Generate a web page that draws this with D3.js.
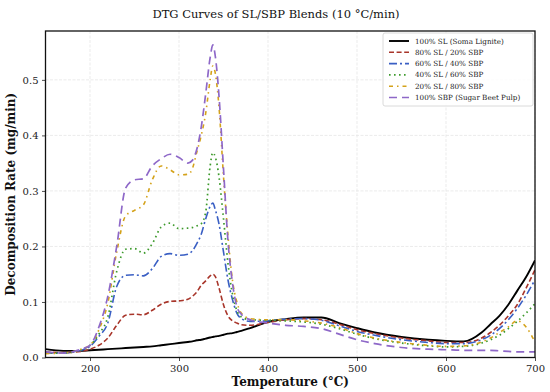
<!DOCTYPE html>
<html>
<head>
<meta charset="utf-8">
<script src="https://cdn.jsdelivr.net/npm/d3@7"></script>
<style>
    body { margin: 0; background: #fff; }
    svg { display: block; font-family: "DejaVu Serif", serif; }
</style>
</head>
<body>
<div id="chart"></div>
<script>
(function () {

    'use strict';

    // temperatures (°C) shared by every curve
    var temps = [150, 170, 190, 200, 210, 220, 230, 240, 250, 260, 270, 280, 290, 300, 310, 315, 320, 325, 330, 335, 338, 341, 345, 350, 355, 360, 365, 370, 380, 400, 420, 440, 460, 480, 500, 520, 550, 580, 600, 620, 640, 650, 660, 670, 680, 690, 700];

    var sl100 = [.015, .012, .012, .013, .014, .015, .016, .017, .018, .019, .020, .022, .024, .026, .028, .029, .031, .032, .034, .036, .037, .038, .039, .041, .043, .044, .046, .048, .053, .064, .069, .072, .072, .062, .053, .045, .037, .032, .030, .029, .045, .060, .075, .095, .120, .145, .175];
    var sl80 = [.010, .009, .011, .015, .022, .035, .058, .076, .078, .077, .085, .096, .101, .102, .105, .110, .118, .130, .138, .147, .150, .145, .125, .095, .075, .066, .062, .059, .058, .063, .068, .070, .068, .060, .050, .043, .035, .030, .027, .027, .035, .045, .058, .075, .095, .125, .158];
    var sl60 = [.008, .008, .013, .020, .038, .062, .128, .148, .149, .147, .160, .182, .187, .184, .186, .192, .205, .222, .250, .272, .278, .265, .240, .190, .140, .105, .080, .070, .065, .066, .069, .070, .067, .057, .047, .040, .032, .027, .025, .025, .032, .040, .052, .068, .088, .112, .140];
    var sl40 = [.008, .008, .014, .022, .042, .073, .155, .195, .196, .188, .205, .235, .242, .232, .233, .234, .237, .241, .262, .345, .369, .360, .325, .250, .170, .115, .085, .073, .068, .067, .066, .064, .060, .052, .042, .034, .026, .021, .019, .020, .026, .032, .040, .052, .065, .080, .097];
    var sl20 = [.007, .008, .015, .022, .050, .098, .190, .255, .265, .275, .320, .345, .338, .329, .330, .340, .370, .400, .440, .500, .525, .510, .450, .326, .220, .140, .100, .080, .070, .068, .068, .066, .062, .054, .043, .035, .027, .022, .020, .021, .028, .035, .045, .055, .066, .055, .028];
    var sbp100 = [.010, .008, .015, .022, .055, .110, .200, .305, .320, .322, .345, .358, .366, .360, .350, .355, .375, .415, .475, .540, .563, .540, .470, .340, .210, .135, .092, .078, .068, .062, .058, .056, .052, .042, .032, .025, .018, .015, .014, .013, .013, .013, .012, .011, .010, .010, .010];

    var seriesNames = ['100% SL (Soma Lignite)', '80% SL / 20% SBP', '60% SL / 40% SBP', '40% SL / 60% SBP', '20% SL / 80% SBP', '100% SBP (Sugar Beet Pulp)'];
    var seriesValues = [sl100, sl80, sl60, sl40, sl20, sbp100];

    var xTicks = [200, 300, 400, 500, 600, 700];
    var yTicks = [0.0, 0.1, 0.2, 0.3, 0.4, 0.5];

    var styles = [
        {color: '#000000', dash: null, width: 1.9},
        {color: '#a8352a', dash: '5,2.6', width: 1.6},
        {color: '#3a5fc4', dash: '8,3,2,3', width: 1.6},
        {color: '#3d9a2c', dash: '1.6,3.4', width: 1.7},
        {color: '#d4a21a', dash: '4,4,1.5,4', width: 1.6},
        {color: '#8e68c8', dash: '8,5', width: 1.7}
    ];

    var width = 550;
    var height = 392;
    var plot = {left: 45.5, right: 535, top: 31, bottom: 357.5};

    var svg = d3.select('#chart')
        .append('svg')
        .attr('width', width)
        .attr('height', height);

    var x = d3.scaleLinear().domain([150, 700]).range([plot.left, plot.right]);
    var y = d3.scaleLinear().domain([0, 0.588]).range([plot.bottom, plot.top]);

    // grid
    var grid = svg.append('g').attr('stroke', '#e6e6e6').attr('stroke-width', 0.8).attr('stroke-dasharray', '3,1.5');
    xTicks.forEach(function (t) {
        grid.append('line').attr('x1', x(t)).attr('x2', x(t)).attr('y1', plot.top).attr('y2', plot.bottom);
    });
    yTicks.forEach(function (t) {
        grid.append('line').attr('x1', plot.left).attr('x2', plot.right).attr('y1', y(t)).attr('y2', y(t));
    });

    svg.append('clipPath').attr('id', 'clip')
        .append('rect')
        .attr('x', plot.left).attr('y', plot.top)
        .attr('width', plot.right - plot.left).attr('height', plot.bottom - plot.top);

    var line = d3.line()
        .x(function (d) { return x(d[0]); })
        .y(function (d) { return y(d[1]); })
        .curve(d3.curveMonotoneX);

    var curves = svg.append('g').attr('clip-path', 'url(#clip)');

    seriesValues.forEach(function (vals, i) {
        var pts = temps.map(function (t, j) { return [t, vals[j]]; });
        curves.append('path')
            .attr('d', line(pts))
            .attr('fill', 'none')
            .attr('stroke', styles[i].color)
            .attr('stroke-width', styles[i].width)
            .attr('stroke-dasharray', styles[i].dash);
    });

    // axes
    var xAxis = svg.append('g')
        .attr('transform', 'translate(0,' + plot.bottom + ')')
        .call(d3.axisBottom(x).tickValues(xTicks).tickSize(3.5).tickPadding(3.5));
    var yAxis = svg.append('g')
        .attr('transform', 'translate(' + plot.left + ',0)')
        .call(d3.axisLeft(y).tickValues(yTicks).tickFormat(d3.format('.1f')).tickSize(3.5).tickPadding(3.5));

    [xAxis, yAxis].forEach(function (a) {
        a.select('.domain').remove();
        a.selectAll('text').attr('font-family', '"DejaVu Serif", serif').attr('font-size', 10).attr('fill', '#222');
        a.selectAll('line').attr('stroke', '#222').attr('stroke-width', 0.8);
    });

    // frame
    svg.append('rect')
        .attr('x', plot.left).attr('y', plot.top)
        .attr('width', plot.right - plot.left).attr('height', plot.bottom - plot.top)
        .attr('fill', 'none').attr('stroke', '#111').attr('stroke-width', 1.3);

    // titles
    svg.append('text')
        .attr('x', 276).attr('y', 18)
        .attr('text-anchor', 'middle')
        .attr('font-size', 11.5)
        .attr('fill', '#111')
        .text('DTG Curves of SL/SBP Blends (10 °C/min)');

    svg.append('text')
        .attr('x', (plot.left + plot.right) / 2).attr('y', 386)
        .attr('text-anchor', 'middle')
        .attr('font-size', 12).attr('font-weight', 'bold')
        .attr('fill', '#111')
        .text('Temperature (°C)');

    svg.append('text')
        .attr('transform', 'translate(15,' + (plot.top + plot.bottom) / 2 + ') rotate(-90)')
        .attr('text-anchor', 'middle')
        .attr('font-size', 12).attr('font-weight', 'bold')
        .attr('fill', '#111')
        .text('Decomposition Rate (mg/min)');

    // legend
    var legend = svg.append('g').attr('transform', 'translate(383,33)');
    legend.append('rect')
        .attr('width', 150).attr('height', 73)
        .attr('rx', 2)
        .attr('fill', '#fff').attr('fill-opacity', 0.85)
        .attr('stroke', '#d0d0d0').attr('stroke-width', 0.8);

    seriesNames.forEach(function (name, i) {
        var ly = 8 + i * 11.3;
        legend.append('line')
            .attr('x1', 6).attr('x2', 26).attr('y1', ly).attr('y2', ly)
            .attr('stroke', styles[i].color)
            .attr('stroke-width', styles[i].width)
            .attr('stroke-dasharray', styles[i].dash);
        legend.append('text')
            .attr('x', 32).attr('y', ly + 2.5)
            .attr('font-size', 7.2)
            .attr('fill', '#222')
            .text(name);
    });

}());
</script>
</body>
</html>
